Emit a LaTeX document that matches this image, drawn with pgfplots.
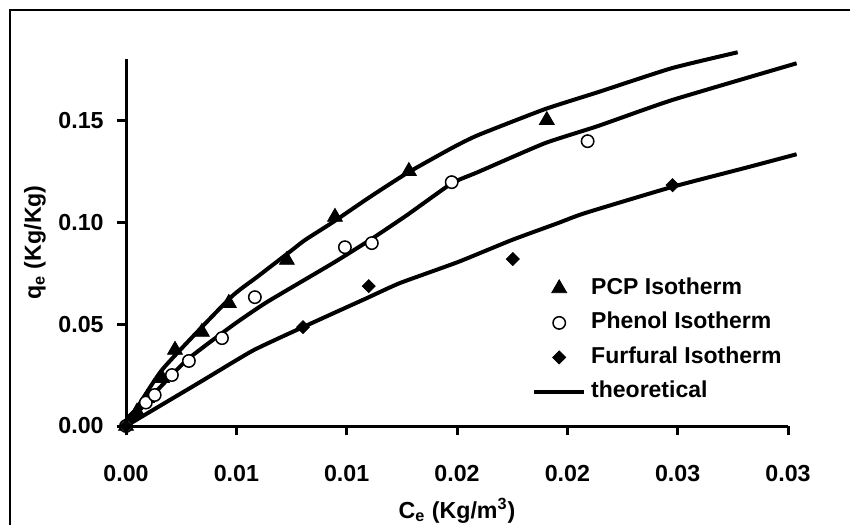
\documentclass[border=0pt]{standalone}
\usepackage{fontspec}
\setmainfont{Liberation Sans}
\usepackage{pgfplots}
\pgfplotsset{compat=1.18}
\begin{document}
\begin{tikzpicture}
\clip (0bp,0bp) rectangle (425bp,-262.5bp);
\draw[line width=1bp] (5bp,-5bp) rectangle (440bp,-280bp);
\begin{axis}[
  at={(63bp,-213bp)}, anchor=south west,
  scale only axis, width=331bp, height=183.5bp,
  xmin=0, xmax=0.03, ymin=0, ymax=0.18,
  axis x line=bottom, axis y line=left,
  axis line style={-, line width=1.5bp},
  clip=false,
  scaled x ticks=false, scaled y ticks=false,
  tick align=outside, major tick length=4.5bp,
  tick style={line width=1.5bp, black},
  xtick={0,0.005,0.01,0.015,0.02,0.025,0.03},
  xticklabels={0.00,0.01,0.01,0.02,0.02,0.03,0.03},
  ytick={0,0.05,0.10,0.15},
  yticklabels={0.00,0.05,0.10,0.15},
  /pgf/number format/assume math mode=true,
  font=\fontsize{11.6bp}{13.5bp}\selectfont\bfseries,
  xticklabel style={anchor=north, yshift=-15bp, inner sep=0pt},
  yticklabel style={anchor=east, xshift=-6.5bp, inner sep=0pt},
  xlabel={C\textsubscript{e} (Kg/m\textsuperscript{3})},
  ylabel={q\textsubscript{e} (Kg/Kg)},
  every axis x label/.style={at={(axis description cs:0.5,-0.2507)}, anchor=base},
  every axis y label/.style={at={(axis description cs:-0.1375,0.5)}, anchor=center, rotate=90},
  legend style={draw=none, fill=none, inner sep=0pt,
    at={(axis description cs:0.613,0.406)}, anchor=north west,
    row sep=6.25bp, column sep=2.5bp,
    nodes={inner sep=0pt, text height=8.5bp, text depth=2.5bp, font=\fontsize{11.5bp}{13.5bp}\selectfont\bfseries},
    cells={anchor=west}},
  legend image code/.code={\draw[mark repeat=2,mark phase=2,#1] plot coordinates {(0bp,0bp) (12.5bp,0bp) (25bp,0bp)};},
]
% theoretical curves
\addplot[black, line width=2bp, smooth, tension=0.3, forget plot] coordinates {
(0,0) (0.00163,0.0275) (0.00471,0.0627) (0.00593,0.0730) (0.00743,0.0855) (0.00811,0.0912)
(0.00938,0.1000) (0.01105,0.1123) (0.01273,0.1240) (0.01476,0.1363) (0.01594,0.1426)
(0.01898,0.1554) (0.02138,0.1637) (0.02473,0.1755) (0.02772,0.1833)};
\addplot[black, line width=2bp, smooth, tension=0.3, forget plot] coordinates {
(0,0) (0.00122,0.0152) (0.00276,0.0324) (0.00485,0.0495) (0.00639,0.0608) (0.00938,0.0799)
(0.01105,0.0912) (0.01273,0.1034) (0.01476,0.1190) (0.01594,0.1245) (0.01898,0.1387)
(0.02138,0.1471) (0.02473,0.1598) (0.03039,0.1779)};
\addplot[black, line width=2bp, smooth, tension=0.3, forget plot] coordinates {
(0,0) (0.00335,0.0215) (0.00575,0.0370) (0.00802,0.0485) (0.01001,0.0583) (0.01091,0.0627)
(0.01241,0.0701) (0.01504,0.0804) (0.01748,0.0912) (0.01957,0.0995) (0.02079,0.1044)
(0.02473,0.1172) (0.02803,0.1265) (0.03039,0.1333)};
% data
\addplot[only marks, mark=triangle*, mark size=4.3bp, black] coordinates {
(0,0) (0.0005,0.007) (0.00095,0.0137) (0.00163,0.0235) (0.00222,0.0373) (0.00344,0.0461)
(0.00466,0.0603) (0.00729,0.0814) (0.00947,0.1025) (0.01282,0.125) (0.01907,0.150)};
\addlegendentry{PCP Isotherm}
\addplot[only marks, mark=*, mark size=3.1bp, black, mark options={fill=white, line width=0.75bp}] coordinates {
(0,0) (0.0009,0.0115) (0.0013,0.0152) (0.00208,0.025) (0.00285,0.0319) (0.00435,0.0431)
(0.00584,0.0632) (0.00992,0.0877) (0.01114,0.0897) (0.01476,0.1196) (0.02092,0.1397)};
\addlegendentry{Phenol Isotherm}
\addplot[only marks, mark=square*, mark size=2.3bp, black, mark options={rotate=45}] coordinates {
(0,0) (0.0003,0.0044) (0.00802,0.0485) (0.0110,0.0686) (0.01753,0.0819) (0.02477,0.1181)};
\addlegendentry{Furfural Isotherm}
\addlegendimage{black, line width=2bp}
\addlegendentry{theoretical}
\end{axis}
\end{tikzpicture}
\end{document}
